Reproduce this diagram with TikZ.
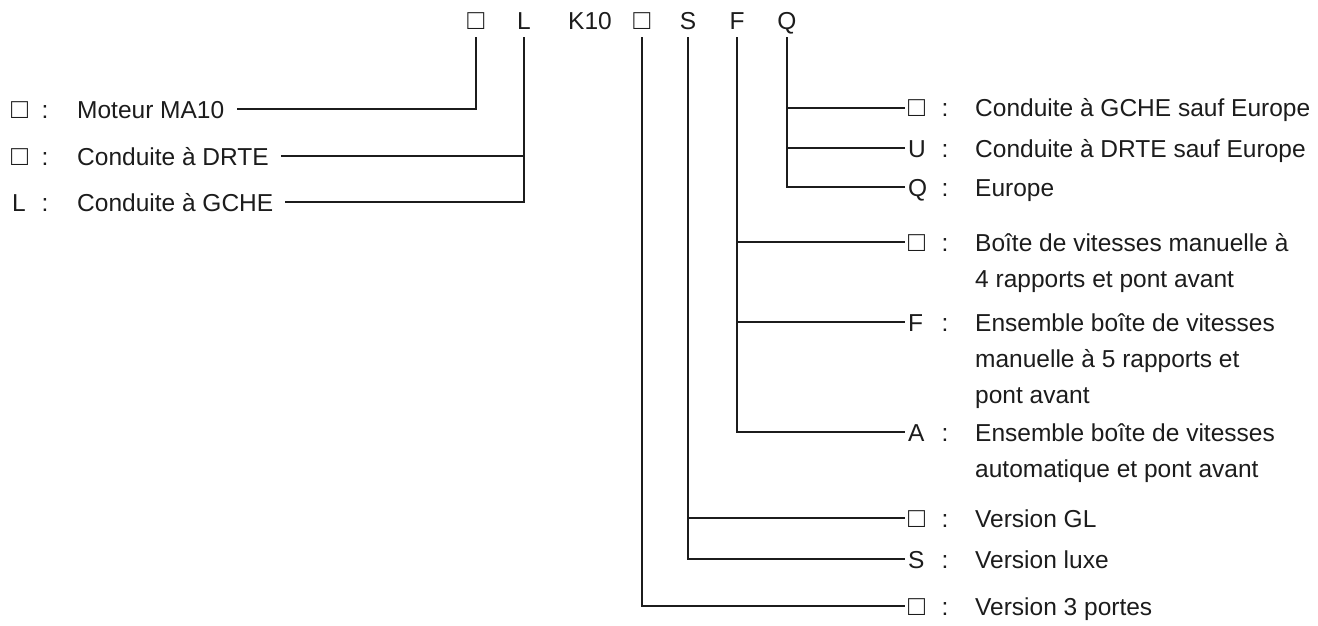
\documentclass[tikz,border=0pt]{standalone}
\usepackage{fontspec}
\setmainfont{Liberation Sans}
\definecolor{ink}{HTML}{1C1C1C}
\newcommand{\sqbox}{\scalebox{1.15}{□}}
\begin{document}
\begin{tikzpicture}[x=1pt,y=-1pt,
  every node/.style={text=ink, inner sep=0pt, font=\fontsize{24.5}{36}\selectfont},
  tag/.style={anchor=base, text height=17.5pt, text depth=0pt},
  key/.style={anchor=base west, inner xsep=3pt, text height=17.5pt, text depth=0pt},
  colon/.style={anchor=base},
  desc/.style={anchor=base west, align=left},
  ltext/.style={anchor=base west, text height=17.5pt, text depth=0pt},
  conn/.style={draw=ink, line width=1.7pt}]
\useasboundingbox (0,0) rectangle (1318,626);
\fill[white] (0,0) rectangle (1318,626);

% code line
\node[tag] (t1) at (476,30) {\sqbox};
\node[tag] (tL) at (524,30) {L};
\node[tag] (tK) at (590,30) {K10};
\node[tag] (t2) at (642,30) {\sqbox};
\node[tag] (tS) at (688,30) {S};
\node[tag] (tF) at (737,30) {F};
\node[tag] (tQ) at (787,30) {Q};

% left entries
\node[key, inner xsep=0pt] (lk1) at (11,118) {\sqbox};
\node[colon] (lc1) at (45,118) {:};
\node[ltext] (m1) at (77,118) {Moteur MA10};
\node[key, inner xsep=0pt] (lk2) at (11,165) {\sqbox};
\node[colon] (lc2) at (45,165) {:};
\node[ltext] (m2) at (77,165) {Conduite à DRTE};
\node[key, inner xsep=0pt] (lk3) at (12,211) {L};
\node[colon] (lc3) at (45,211) {:};
\node[ltext] (m3) at (77,211) {Conduite à GCHE};

% right entries (multi-line texts are placed by the baseline of their last line)
\node[key] (k1) at (905,117) {\sqbox};
\node[colon] (c1) at (945,117) {:};
\node[desc] (d1) at (975,117) {Conduite à GCHE sauf Europe};
\node[key] (k2) at (905,157) {U};
\node[colon] (c2) at (945,157) {:};
\node[desc] (d2) at (975,157) {Conduite à DRTE sauf Europe};
\node[key] (k3) at (905,196) {Q};
\node[colon] (c3) at (945,196) {:};
\node[desc] (d3) at (975,196) {Europe};
\node[key] (k4) at (905,251) {\sqbox};
\node[colon] (c4) at (945,251) {:};
\node[desc] (d4) at (975,287) {Boîte de vitesses manuelle à\\4 rapports et pont avant};
\node[key] (k5) at (905,331) {F};
\node[colon] (c5) at (945,331) {:};
\node[desc] (d5) at (975,403) {Ensemble boîte de vitesses\\manuelle à 5 rapports et\\pont avant};
\node[key] (k6) at (905,441) {A};
\node[colon] (c6) at (945,441) {:};
\node[desc] (d6) at (975,477) {Ensemble boîte de vitesses\\automatique et pont avant};
\node[key] (k7) at (905,527) {\sqbox};
\node[colon] (c7) at (945,527) {:};
\node[desc] (d7) at (975,527) {Version GL};
\node[key] (k8) at (905,568) {S};
\node[colon] (c8) at (945,568) {:};
\node[desc] (d8) at (975,568) {Version luxe};
\node[key] (k9) at (905,615) {\sqbox};
\node[colon] (c9) at (945,615) {:};
\node[desc] (d9) at (975,615) {Version 3 portes};

% left connectors
\draw[conn] ([xshift=13pt]m1.east) -| ([yshift=-7pt]t1.south);
\draw[conn] ([xshift=12pt]m2.east) -- (m2.east -| tL.south);
\draw[conn] ([xshift=12pt]m3.east) -| ([yshift=-7pt]tL.south);

% right connectors
\draw[conn] ([yshift=-7pt]tQ.south) |- (k1.west);
\draw[conn] ([yshift=-7pt]tQ.south) |- (k2.west);
\draw[conn] ([yshift=-7pt]tQ.south) |- (k3.west);
\draw[conn] ([yshift=-7pt]tF.south) |- (k4.west);
\draw[conn] ([yshift=-7pt]tF.south) |- (k5.west);
\draw[conn] ([yshift=-7pt]tF.south) |- (k6.west);
\draw[conn] ([yshift=-7pt]tS.south) |- (k7.west);
\draw[conn] ([yshift=-7pt]tS.south) |- (k8.west);
\draw[conn] ([yshift=-7pt]t2.south) |- (k9.west);
\end{tikzpicture}
\end{document}
